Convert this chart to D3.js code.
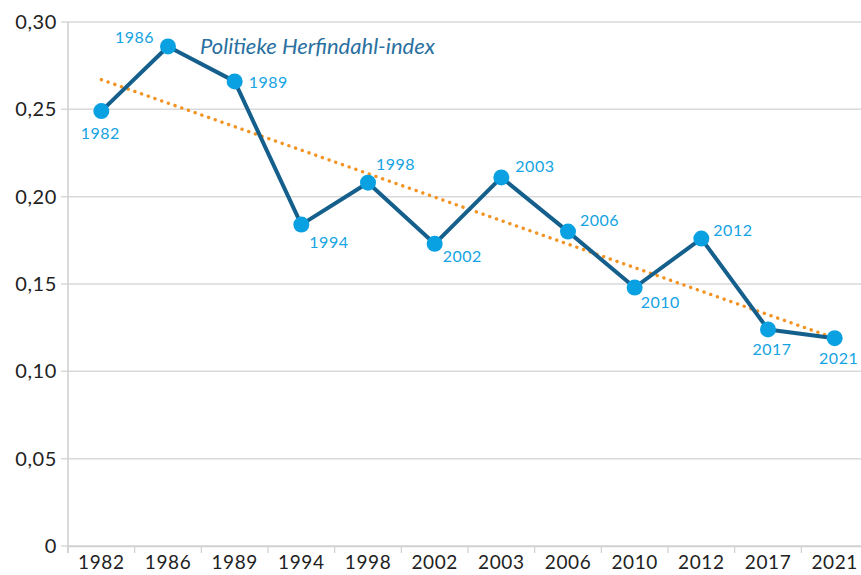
<!DOCTYPE html>
<html><head><meta charset="utf-8">
<script src="https://cdn.jsdelivr.net/npm/d3@7"></script>
<style>body{margin:0;background:#fff;} svg{display:block;}</style>
</head><body>
<svg id="c" width="861" height="575"></svg>
<script>
const years = ["1982","1986","1989","1994","1998","2002","2003","2006","2010","2012","2017","2021"];
const values = [0.249,0.286,0.266,0.184,0.208,0.173,0.211,0.180,0.148,0.176,0.124,0.119];
const trendValues = [0.267,0.119];
const yTicks = [0,0.05,0.10,0.15,0.20,0.25,0.30];
const title = "Politieke Herfindahl-index";
// label placement (style): [dx, dy, anchor]
const labelPlace = [[-1,22,"middle"],[-14,-9,"end"],[14,1,"start"],[8,18,"start"],[8,-18,"start"],[8,13,"start"],[14,-11,"start"],[12,-11,"start"],[6,15,"start"],[12,-8,"start"],[4,20,"middle"],[4,20,"middle"]];

const svg = d3.select("#c");
const font = "Lato, 'Open Sans', sans-serif";
const x = d3.scaleBand().domain(years).range([68,868]).padding(0);
const y = d3.scaleLinear().domain([0,0.30]).range([546,22]);

// grid
svg.append("g").selectAll("line").data(yTicks).join("line")
  .attr("x1",61).attr("x2",861).attr("y1",d=>y(d)).attr("y2",d=>y(d))
  .attr("stroke","#d9d9d9").attr("stroke-width",1.5);
// y axis line
svg.append("line").attr("x1",68).attr("x2",68).attr("y1",y(0.30)).attr("y2",y(0)+7)
  .attr("stroke","#cfcfcf").attr("stroke-width",1.5);
// y labels
const fmt = d => d===0 ? "0" : d3.format(".2f")(d).replace(".",",");
svg.append("g").selectAll("text").data(yTicks).join("text")
  .attr("x",57).attr("y",d=>y(d)).attr("dy","0.35em").attr("text-anchor","end")
  .attr("font-family",font).attr("font-size",20).attr("letter-spacing",0.6).attr("fill","#222").text(fmt);
// x axis
const xAxis = d3.axisBottom(x).tickSize(0).tickPadding(10);
const gx = svg.append("g").attr("transform","translate(0,546)").call(xAxis);
gx.select(".domain").attr("stroke","#cfcfcf").attr("stroke-width",1.5);
gx.selectAll("text").attr("font-family",font).attr("font-size",19).attr("letter-spacing",0.6).attr("fill","#222");
svg.append("g").selectAll("line").data(years).join("line")
  .attr("x1",d=>x(d)).attr("x2",d=>x(d)).attr("y1",546).attr("y2",553)
  .attr("stroke","#cfcfcf").attr("stroke-width",1.2);

const cx = d => x(d)+x.bandwidth()/2;
// trend
svg.append("line")
  .attr("x1",cx(years[0])).attr("y1",y(trendValues[0]))
  .attr("x2",cx(years[years.length-1])).attr("y2",y(trendValues[1]))
  .attr("stroke","#f39322").attr("stroke-width",3.4).attr("stroke-dasharray","0.1 7")
  .attr("stroke-linecap","round");
// line
const line = d3.line().x((d,i)=>cx(years[i])).y(d=>y(d));
svg.append("path").datum(values).attr("d",line).attr("fill","none")
  .attr("stroke","#155f8c").attr("stroke-width",4).attr("stroke-linejoin","round");
// markers
svg.append("g").selectAll("circle").data(values).join("circle")
  .attr("cx",(d,i)=>cx(years[i])).attr("cy",d=>y(d)).attr("r",8).attr("fill","#0aa1e2");
// labels
svg.append("g").selectAll("text").data(values).join("text")
  .attr("x",(d,i)=>cx(years[i])+labelPlace[i][0]).attr("y",(d,i)=>y(d)+labelPlace[i][1])
  .attr("dy","0.35em").attr("text-anchor",(d,i)=>labelPlace[i][2])
  .attr("font-family",font).attr("font-size",16).attr("letter-spacing",0.5).attr("fill","#14a3e3")
  .text((d,i)=>years[i]);
// title
svg.append("text").attr("x",200).attr("y",46).attr("dy","0.35em")
  .attr("font-family",font).attr("font-size",22).attr("font-style","italic")
  .attr("fill","#2a70a0").text(title);
</script>
</body></html>
